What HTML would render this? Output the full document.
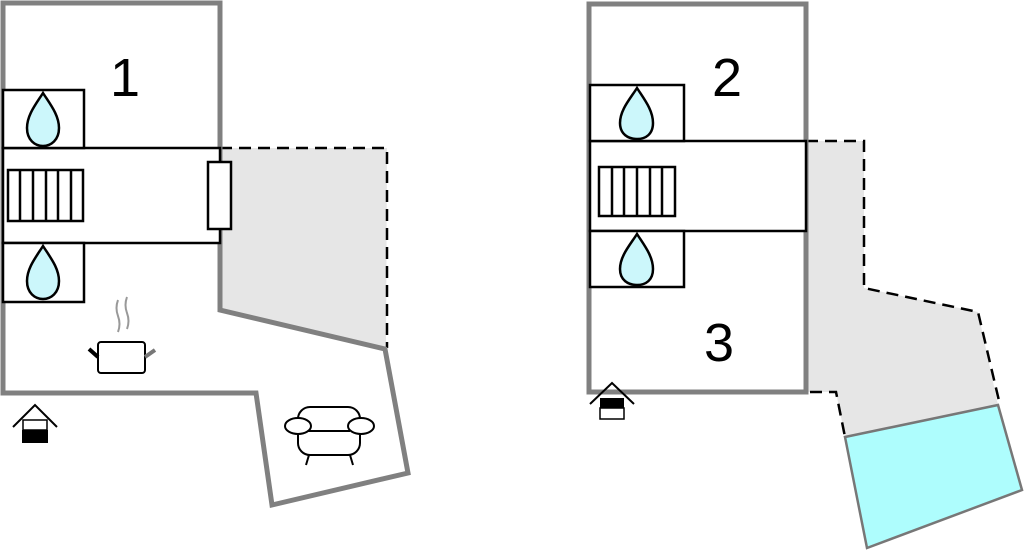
<!DOCTYPE html>
<html><head><meta charset="utf-8"><style>html,body{margin:0;padding:0;background:#fff}svg{display:block}</style></head>
<body>
<svg width="1024" height="551" viewBox="0 0 1024 551" xmlns="http://www.w3.org/2000/svg" font-family="Liberation Sans, sans-serif">
<polygon points="220,148 387,148 386,348 220,310" fill="#e6e6e6"/>
<path d="M220,148 H387 V348" fill="none" stroke="#000" stroke-width="2.5" stroke-dasharray="12,7"/>
<path d="M3,3 H220 V310 L385,349 L408,473 L272,505 L256,393 H3 Z" fill="none" stroke="#808080" stroke-width="5"/>
<rect x="3" y="148" width="217" height="95" fill="#fff" stroke="#000" stroke-width="2.5"/>
<rect x="3" y="90" width="81" height="58" fill="#fff" stroke="#000" stroke-width="2.5"/>
<rect x="3" y="243" width="81" height="59" fill="#fff" stroke="#000" stroke-width="2.5"/>
<g fill="#fff" stroke="#000" stroke-width="2.5">
<rect x="8" y="170" width="75" height="51"/>
<path d="M20,170V221M33,170V221M46,170V221M58,170V221M71,170V221"/>
<rect x="208" y="162" width="23" height="67"/>
</g>
<g fill="#ccf7fb" stroke="#000" stroke-width="2.5">
<path d="M43,93 C36,104 27,115 27,128 C27,140 35,146 43,146 C51,146 59,140 59,128 C59,115 50,104 43,93Z"/>
<path d="M43,246 C36,257 27,268 27,281 C27,293 35,299 43,299 C51,299 59,293 59,281 C59,268 50,257 43,246Z"/>
</g>
<text x="125" y="96" font-size="54" text-anchor="middle">1</text>
<path d="M118,300 q-3,8 0,16 q3,8 0,16 M127,297 q-3,8 0,16 q3,8 0,16" fill="none" stroke="#999" stroke-width="2"/>
<rect x="98" y="342" width="47" height="31" rx="3" fill="#fff" stroke="#000" stroke-width="2"/>
<path d="M89,349 L98,357" stroke="#000" stroke-width="4"/>
<path d="M145,357 L155,350" stroke="#777" stroke-width="4"/>
<g fill="#fff" stroke="#000" stroke-width="2">
<rect x="298" y="407" width="62" height="48" rx="12"/>
<ellipse cx="298" cy="426" rx="13" ry="8"/>
<ellipse cx="361" cy="426" rx="13" ry="8"/>
<path d="M308,431 H350 M309,455 L306,465 M350,455 L353,465"/>
</g>
<path d="M13,427 L35,405 L57,427" fill="none" stroke="#000" stroke-width="2"/>
<rect x="23" y="420" width="24" height="10" fill="#fff" stroke="#000" stroke-width="1.5"/>
<rect x="22" y="430" width="26" height="13" fill="#000"/>

<polygon points="806,141 864,141 864,288 978,312 998,405 845,437 836,392 806,392" fill="#e6e6e6"/>
<path d="M806,141 H864 V288 L978,312 L1000,405 M791,392 H836 L845,437" fill="none" stroke="#000" stroke-width="2.5" stroke-dasharray="12,7"/>
<polygon points="845,437 998,405 1022,490 867,548" fill="#aefdfd" stroke="#777" stroke-width="2.5"/>
<rect x="589" y="4" width="217" height="388" fill="none" stroke="#808080" stroke-width="5"/>
<rect x="590" y="141" width="216" height="90" fill="#fff" stroke="#000" stroke-width="2.5"/>
<rect x="590" y="85" width="94" height="56" fill="#fff" stroke="#000" stroke-width="2.5"/>
<rect x="590" y="231" width="94" height="56" fill="#fff" stroke="#000" stroke-width="2.5"/>
<g fill="#fff" stroke="#000" stroke-width="2.5">
<rect x="599" y="167" width="76" height="49"/>
<path d="M612,167V216M624,167V216M637,167V216M650,167V216M662,167V216"/>
</g>
<g fill="#ccf7fb" stroke="#000" stroke-width="2.5">
<path d="M637,88 C630,99 620,110 620,123 C620,134 628,139 637,139 C646,139 653,134 653,123 C653,110 644,99 637,88Z"/>
<path d="M637,234 C630,245 620,256 620,269 C620,280 628,285 637,285 C646,285 653,280 653,269 C653,256 644,245 637,234Z"/>
</g>
<text x="727" y="96" font-size="54" text-anchor="middle">2</text>
<text x="719" y="361" font-size="54" text-anchor="middle">3</text>
<path d="M590,404 L612,383 L634,404" fill="none" stroke="#000" stroke-width="2"/>
<rect x="600" y="398" width="24" height="10" fill="#000"/>
<rect x="600" y="408" width="24" height="11" fill="#fff" stroke="#000" stroke-width="1.5"/>
</svg>
</body></html>
